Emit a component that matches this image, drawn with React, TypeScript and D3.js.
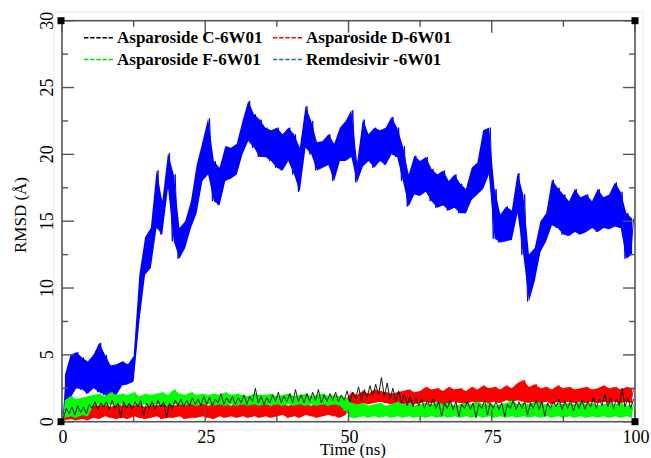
import React from "react";
import * as d3 from "d3";

// Per-nanosecond [low, high] envelopes (t = 0..99 ns)
const remdesivir: [number, number][] = [
  [0.5,3.5],[1.8,5.0],[2.5,5.2],[2.4,4.8],[2.1,4.5],[2.5,5.0],[2.2,5.9],[2.0,5.0],[1.6,4.2],[2.0,4.3],
  [2.7,4.5],[2.8,4.3],[3.0,4.9],[7.5,11.0],[11.0,13.8],[11.5,14.5],[14.5,18.8],[14.0,16.5],[17.5,20.1],[13.5,18.5],
  [12.2,14.5],[13.0,15.0],[14.5,16.5],[15.6,19.2],[18.0,20.9],[18.5,22.7],[16.5,19.5],[16.2,19.0],[18.0,20.6],[18.2,20.5],
  [18.5,20.8],[20.0,22.5],[21.0,24.0],[20.5,23.0],[19.8,22.6],[19.8,22.0],[19.5,21.8],[19.0,22.0],[18.8,21.5],[19.5,22.0],
  [18.5,21.5],[17.2,20.5],[20.5,23.6],[20.0,22.5],[18.8,20.9],[19.0,21.0],[19.2,21.5],[18.0,20.8],[19.5,22.0],[19.5,22.5],
  [19.8,23.3],[17.9,19.4],[19.1,22.6],[19.5,21.5],[19.0,22.0],[19.5,21.8],[19.2,22.0],[20.0,22.8],[19.8,22.0],[18.0,20.6],
  [16.1,18.5],[17.0,19.9],[16.9,19.5],[17.2,19.8],[16.5,18.9],[16.0,18.5],[16.2,18.8],[15.8,18.0],[16.0,18.5],[15.6,17.8],
  [15.6,17.4],[16.6,19.0],[17.0,19.4],[17.4,21.8],[18.5,22.0],[13.7,17.4],[13.4,15.5],[13.5,16.1],[13.6,15.8],[15.6,18.6],
  [12.5,17.0],[9.0,12.5],[10.5,13.0],[12.7,15.0],[13.5,15.6],[14.7,18.1],[14.5,17.5],[14.0,17.0],[13.9,16.5],[14.2,17.4],
  [14.0,16.8],[14.2,17.0],[14.5,16.5],[14.2,17.4],[14.5,16.8],[14.4,17.0],[14.6,17.9],[14.5,17.2],[12.2,15.6],[12.5,15.2],
];

const asparosideC: [number, number][] = [
  [0.3,1.0],[0.6,1.1],[0.5,1.2],[0.7,1.1],[0.6,1.3],[1.0,1.5],[0.9,1.4],[1.1,1.5],[0.9,1.6],[1.0,1.4],
  [0.3,1.5],[1.0,1.4],[0.9,1.5],[1.1,1.6],[0.4,1.4],[1.0,1.5],[0.9,1.6],[1.1,1.5],[0.3,1.4],[1.0,1.6],
  [1.2,1.7],[1.1,1.6],[1.2,1.8],[1.3,1.7],[1.2,1.9],[1.3,1.8],[1.2,1.7],[1.4,2.1],[1.3,1.8],[1.4,1.9],
  [1.3,1.8],[1.4,2.0],[1.3,1.9],[1.5,2.5],[1.4,1.9],[1.3,1.8],[1.4,2.0],[1.5,2.2],[1.4,1.9],[1.5,2.1],
  [1.4,2.4],[1.5,2.0],[1.4,2.1],[1.5,2.2],[1.6,2.4],[1.4,2.0],[1.5,2.1],[1.6,2.2],[1.5,2.0],[1.6,2.3],
  [1.5,2.2],[1.7,2.6],[1.6,2.4],[1.8,2.7],[1.9,2.8],[2.0,3.3],[1.9,2.9],[1.7,2.5],[1.5,2.3],[1.4,2.1],
  [1.2,1.9],[1.1,1.8],[1.2,1.7],[1.0,1.6],[1.1,1.7],[1.0,1.5],[0.4,1.4],[1.0,1.6],[0.9,1.5],[0.4,1.3],
  [1.0,1.5],[0.9,1.4],[0.3,1.3],[1.0,1.6],[0.5,1.4],[1.0,1.5],[0.9,1.4],[0.4,1.3],[1.0,1.6],[0.9,1.5],
  [1.0,1.5],[0.5,1.4],[1.0,1.6],[0.9,1.5],[0.4,1.4],[1.0,1.5],[1.1,1.7],[0.9,1.5],[1.0,1.6],[0.8,1.5],
  [1.0,1.6],[0.9,1.5],[1.1,1.8],[1.0,1.7],[1.2,2.1],[1.1,1.8],[1.0,1.7],[1.2,2.5],[1.1,1.8],[1.0,1.7],
];

const asparosideD: [number, number][] = [
  [0.1,0.8],[0.2,0.9],[0.1,0.7],[0.2,0.9],[0.1,0.8],[0.3,1.3],[0.2,1.2],[0.4,1.3],[0.3,1.1],[0.2,1.3],
  [0.3,1.2],[0.2,1.4],[0.4,1.2],[0.3,1.3],[0.2,1.1],[0.3,1.3],[0.4,1.2],[0.2,1.3],[0.3,1.4],[0.3,1.2],
  [0.4,1.3],[0.2,1.2],[0.3,1.4],[0.3,1.3],[0.4,1.5],[0.3,1.2],[0.2,1.3],[0.4,1.4],[0.3,1.3],[0.4,1.2],
  [0.3,1.4],[0.4,1.3],[0.3,1.5],[0.4,1.3],[0.3,1.4],[0.4,1.3],[0.3,1.2],[0.4,1.4],[0.5,1.3],[0.3,1.2],
  [0.4,1.3],[0.3,1.4],[0.5,1.3],[0.4,1.2],[0.3,1.4],[0.4,1.3],[0.5,1.4],[0.4,1.3],[0.3,1.4],[0.5,1.6],
  [1.3,2.2],[1.2,2.0],[1.4,2.3],[1.3,2.1],[1.4,2.4],[1.5,2.3],[1.4,2.2],[1.3,2.1],[1.4,2.2],[1.3,2.3],
  [1.4,2.4],[1.3,2.2],[1.4,2.3],[1.5,2.6],[1.4,2.4],[1.5,2.5],[1.3,2.3],[1.4,2.6],[1.5,2.4],[1.4,2.5],
  [1.3,2.3],[1.5,2.6],[1.4,2.4],[1.5,2.7],[1.4,2.5],[1.5,2.6],[1.4,2.4],[1.6,2.7],[1.5,2.5],[1.6,2.9],
  [1.5,3.1],[1.4,2.6],[1.5,2.8],[1.4,2.5],[1.5,2.6],[1.3,2.4],[1.5,2.7],[1.4,2.5],[1.5,2.6],[1.4,2.4],
  [1.5,2.5],[1.4,2.6],[1.5,2.4],[1.4,2.5],[1.5,2.7],[1.4,2.5],[1.5,2.6],[1.4,2.4],[1.5,2.6],[1.4,2.5],
];

const asparosideF: [number, number][] = [
  [0.3,1.6],[0.4,1.9],[0.3,1.7],[0.5,1.8],[0.4,1.9],[1.2,2.0],[1.3,2.1],[1.2,1.9],[1.3,2.2],[1.2,2.0],
  [1.3,2.1],[1.2,2.0],[1.3,2.2],[1.2,1.9],[1.3,2.1],[1.2,2.0],[1.3,2.1],[1.3,2.2],[1.2,2.0],[1.3,2.4],
  [1.3,2.1],[1.2,2.0],[1.3,2.2],[1.2,2.0],[1.3,2.1],[1.3,2.0],[1.2,2.1],[1.3,2.0],[1.2,2.2],[1.3,2.0],
  [1.2,2.1],[1.3,2.0],[1.2,1.9],[1.3,2.1],[1.2,2.0],[1.3,2.0],[1.2,2.1],[1.3,1.9],[1.2,2.0],[1.3,2.1],
  [1.2,1.9],[1.3,2.0],[1.2,2.1],[1.3,1.9],[1.2,2.0],[1.3,2.1],[1.2,1.9],[1.3,2.0],[1.2,1.9],[0.8,1.8],
  [0.3,1.4],[0.3,1.3],[0.4,1.4],[0.3,1.2],[0.4,1.3],[0.3,1.4],[0.4,1.2],[0.3,1.3],[0.4,1.5],[0.3,1.3],
  [0.4,1.4],[0.3,1.2],[0.4,1.3],[0.3,1.4],[0.4,1.3],[0.3,1.5],[0.4,1.3],[0.3,1.4],[0.4,1.2],[0.3,1.3],
  [0.4,1.4],[0.3,1.3],[0.4,1.5],[0.3,1.3],[0.4,1.4],[0.3,1.2],[0.4,1.3],[0.3,1.4],[0.4,1.6],[0.3,1.3],
  [0.4,1.4],[0.3,1.3],[0.4,1.5],[0.3,1.4],[0.4,1.3],[0.3,1.2],[0.4,1.4],[0.3,1.3],[0.4,1.4],[0.3,1.3],
  [0.4,1.5],[0.3,1.3],[0.4,1.4],[0.3,1.2],[0.4,1.3],[0.3,1.4],[0.4,1.3],[0.3,1.4],[0.4,1.2],[0.3,1.3],
];

const xMajorTicks = [0, 25, 50, 75, 100];
const xMinorTicks = [12.5, 37.5, 62.5, 87.5];
const yMajorTicks = [0, 5, 10, 15, 20, 25, 30];
const yMinorTicks = [2.5, 7.5, 12.5, 17.5, 22.5, 27.5];

const legendItems = [
  { label: "Asparoside C-6W01", color: "#000000", col: 0, row: 0 },
  { label: "Asparoside D-6W01", color: "#ff0000", col: 1, row: 0 },
  { label: "Asparoside F-6W01", color: "#00e000", col: 0, row: 1 },
  { label: "Remdesivir -6W01", color: "#1f6fd0", col: 1, row: 1 },
];

const W = 651, H = 458;
const L = 62, R = 635, T = 20.7, B = 421.7;
const serif = "'Liberation Serif', 'Times New Roman', serif";

export default function App() {
  const x = d3.scaleLinear().domain([0, 100]).range([L, R]);
  const y = d3.scaleLinear().domain([0, 30]).range([B, T]);

  // zigzag through the read envelope: low then high within each ns
  const toPoints = (env: [number, number][]) => {
    const pts: [number, number][] = [];
    env.forEach(([lo, hi], i) => {
      pts.push([i + 0.25, lo]);
      pts.push([i + 0.75, hi]);
    });
    return pts;
  };
  const line = d3.line<[number, number]>().x((d) => x(d[0])).y((d) => y(d[1]));
  const area = d3
    .area<[number, number]>()
    .x((_, i) => x(i + 0.5))
    .y0((d) => y(d[0]))
    .y1((d) => y(d[1]));

  const series = [
    { data: remdesivir, color: "#0000ff", w: 1.0, fill: true },
    { data: asparosideD, color: "#ff0000", w: 1.0, fill: true },
    { data: asparosideF, color: "#00ff00", w: 1.0, fill: true },
    { data: asparosideC, color: "#000000", w: 0.9, fill: false },
  ];

  const axisColor = "#555";
  const major = 12, minor = 6;

  return (
    <svg width={W} height={H} style={{ display: "block", position: "absolute", left: 0, top: 0, background: "#fff" }}>
      <rect x={0} y={0} width={W} height={H} fill="#fff" />
      <rect x={54} y={12} width={589} height={418} fill="none" stroke="#ececec" strokeWidth={1} />
      <defs>
        <clipPath id="plot">
          <rect x={L} y={T} width={R - L} height={B - T} />
        </clipPath>
      </defs>
      <g clipPath="url(#plot)">
        {series.map((s, i) => (
          <g key={i}>
            {s.fill && <path d={area(s.data) || ""} fill={s.color} stroke="none" />}
            <path d={line(toPoints(s.data)) || ""} fill="none" stroke={s.color} strokeWidth={s.w} />
          </g>
        ))}
      </g>
      {/* frame */}
      <rect x={L} y={T} width={R - L} height={B - T} fill="none" stroke={axisColor} strokeWidth={1.6} />
      {/* ticks */}
      {xMajorTicks.map((t) => (
        <g key={"xM" + t}>
          <line x1={x(t)} x2={x(t)} y1={B} y2={B - major} stroke={axisColor} strokeWidth={1.4} />
          <line x1={x(t)} x2={x(t)} y1={T} y2={T + major} stroke={axisColor} strokeWidth={1.4} />
          <text x={x(t) + 1} y={442.5} textAnchor="middle" fontFamily={serif} fontSize={18} fill="#000">{t}</text>
        </g>
      ))}
      {xMinorTicks.map((t) => (
        <g key={"xm" + t}>
          <line x1={x(t)} x2={x(t)} y1={B} y2={B - minor} stroke={axisColor} strokeWidth={1.4} />
          <line x1={x(t)} x2={x(t)} y1={T} y2={T + minor} stroke={axisColor} strokeWidth={1.4} />
        </g>
      ))}
      {yMajorTicks.map((t) => (
        <g key={"yM" + t}>
          <line x1={L} x2={L + major} y1={y(t)} y2={y(t)} stroke={axisColor} strokeWidth={1.4} />
          <line x1={R} x2={R - major} y1={y(t)} y2={y(t)} stroke={axisColor} strokeWidth={1.4} />
          <text transform={`translate(52.5,${y(t)}) rotate(-90)`} textAnchor="middle" fontFamily={serif} fontSize={18} fill="#000">{t}</text>
        </g>
      ))}
      {yMinorTicks.map((t) => (
        <g key={"ym" + t}>
          <line x1={L} x2={L + minor} y1={y(t)} y2={y(t)} stroke={axisColor} strokeWidth={1.4} />
          <line x1={R} x2={R - minor} y1={y(t)} y2={y(t)} stroke={axisColor} strokeWidth={1.4} />
        </g>
      ))}
      {/* corner handles */}
      {[[L - 1, T], [R, T], [L - 1, B], [R, B]].map(([cx, cy], i) => (
        <rect key={"c" + i} x={cx - 3.5} y={cy - 3.5} width={7} height={7} fill="#000" />
      ))}
      {/* axis titles */}
      <text x={320} y={455} fontFamily={serif} fontSize={17} fill="#000">Time (ns)</text>
      <text transform={`translate(26,215) rotate(-90)`} textAnchor="middle" fontFamily={serif} fontSize={17} fill="#000">RMSD (Å)</text>
      {/* legend */}
      {legendItems.map((it, i) => {
        const lx = it.col === 0 ? 84 : 273;
        const ly = it.row === 0 ? 37.7 : 59.5;
        const tb = it.row === 0 ? 43.3 : 64.5;
        return (
          <g key={"lg" + i}>
            <line x1={lx} x2={lx + 29} y1={ly} y2={ly} stroke={it.color} strokeWidth={1.5} strokeDasharray="4.4,1.75" />
            <text x={lx + 33} y={tb} fontFamily={serif} fontWeight="bold" fontSize={17} fill="#000">{it.label}</text>
          </g>
        );
      })}
    </svg>
  );
}
